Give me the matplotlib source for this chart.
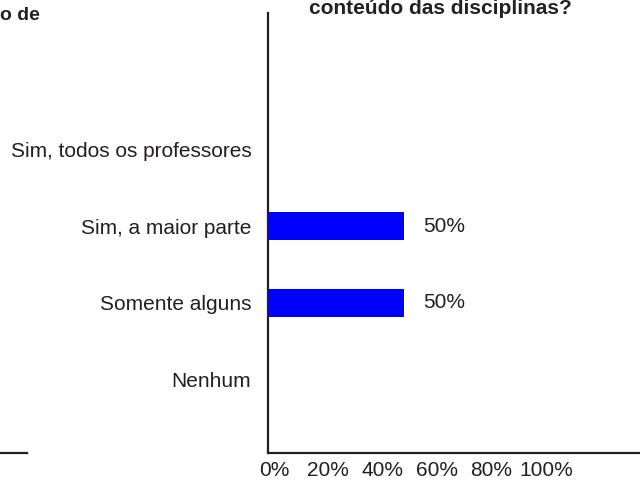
import matplotlib
matplotlib.use("Agg")
import matplotlib.pyplot as plt
import matplotlib.transforms as mtransforms
from matplotlib.lines import Line2D

categories = ["Nenhum", "Somente alguns", "Sim, a maior parte", "Sim, todos os professores"]
values = [0, 50, 50, 0]
tick_values = [0, 20, 40, 60, 80, 100]
tick_labels = ["0%", "20%", "40%", "60%", "80%", "100%"]

plt.rcParams['font.family'] = ['Liberation Sans', 'DejaVu Sans']
text_color = '#231f20'
axis_color = '#231f20'

fig = plt.figure(figsize=(6.4, 4.8), dpi=100)
ax = fig.add_axes([268 / 640, (480 - 453) / 480, (640 - 268) / 640, 440 / 480])

pos = list(range(len(categories)))
ax.barh(pos, values, height=0.36, color='#0000ff')
for p, v in zip(pos, values):
    if v > 0:
        ax.text(v + 7, p, f"{v}%", va='center', ha='left', fontsize=15, color=text_color)

ax.set_xlim(0, 136.8)
ax.set_ylim(-0.95, 4.77)
ax.set_yticks(pos)
ax.set_yticklabels(categories, fontsize=15, color=text_color)
ax.set_xticks(tick_values)
ax.set_xticklabels(tick_labels, fontsize=15, color=text_color)
ax.tick_params(axis='both', length=0)
ax.tick_params(axis='y', pad=12)
ax.tick_params(axis='x', pad=6)
offset = mtransforms.ScaledTranslation(6 / 100, 0, fig.dpi_scale_trans)
for lbl in ax.get_xticklabels():
    lbl.set_transform(lbl.get_transform() + offset)

for side in ['top', 'right']:
    ax.spines[side].set_visible(False)
for side in ['left', 'bottom']:
    ax.spines[side].set_color(axis_color)
    ax.spines[side].set_linewidth(1.6)

fig.text(440 / 640, 1 - 14 / 480, "conteúdo das disciplinas?", ha='center', va='baseline',
         fontsize=15, fontweight='bold', color='#222222')
fig.text(40 / 640, 1 - 20 / 480, "o de", ha='right', va='baseline',
         fontsize=14, fontweight='bold', color='#222222')
fig.add_artist(Line2D([0, 27 / 640], [(480 - 453) / 480] * 2, transform=fig.transFigure,
                      color=axis_color, linewidth=1.6))

fig.savefig("out.png", dpi=100)
